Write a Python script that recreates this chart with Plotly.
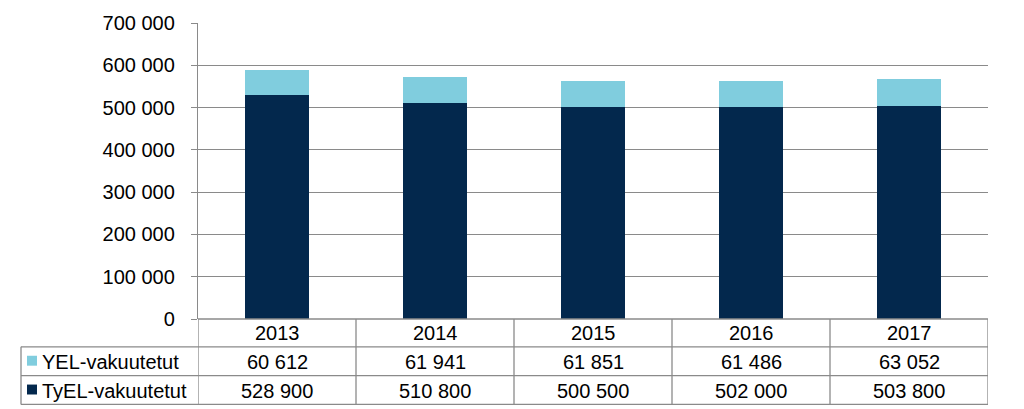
import plotly.graph_objects as go

years = ["2013", "2014", "2015", "2016", "2017"]
yel = [60612, 61941, 61851, 61486, 63052]
tyel = [528900, 510800, 500500, 502000, 503800]
series_names = ["YEL-vakuutetut", "TyEL-vakuutetut"]
y_ticks = [0, 100000, 200000, 300000, 400000, 500000, 600000, 700000]

DARK = "#03284D"
LIGHT = "#80CDDE"
GRID = "#8A8A8A"
FONT = "Liberation Sans, Arial, sans-serif"
FS = 20

W, H = 1024, 409
L, R, T, B = 198, 36, 21, 90
ph = H - T - B
pw = W - L - R


def py(p):
    return (H - B - p) / ph


def px(p):
    return (p - L) / pw


def fmt(v):
    return f"{v:,}".replace(",", " ")


fig = go.Figure()
fig.add_trace(go.Bar(x=years, y=tyel, name=series_names[1], marker=dict(color=DARK, line=dict(width=0))))
fig.add_trace(go.Bar(x=years, y=yel, name=series_names[0], marker=dict(color=LIGHT, line=dict(width=0))))

shapes = []
row_lines = [347, 376, 405]
for p in row_lines:
    shapes.append(dict(type="line", xref="paper", yref="paper", x0=px(21), x1=1, y0=py(p), y1=py(p),
                       line=dict(color=GRID, width=1.3)))
shapes.append(dict(type="line", xref="paper", yref="paper", x0=0, x1=1, y0=0, y1=0,
                   line=dict(color=GRID, width=1.3)))
# vertical lines at category boundaries
for i in range(len(years) + 1):
    shapes.append(dict(type="line", xref="x", yref="paper", x0=i - 0.5, x1=i - 0.5, y0=0, y1=py(405),
                       line=dict(color=GRID, width=1.3)))
shapes.append(dict(type="line", xref="paper", yref="paper", x0=px(21), x1=px(21), y0=py(347), y1=py(405),
                   line=dict(color=GRID, width=1.3)))
# legend swatches
for (c, top, bot) in [(LIGHT, 356, 366), (DARK, 385, 395)]:
    shapes.append(dict(type="rect", xref="paper", yref="paper", x0=px(27), x1=px(37), y0=py(bot), y1=py(top),
                       fillcolor=c, line=dict(width=0)))

annotations = []
row_y = {"year": 333, "yel": 362, "tyel": 391}
for i, yr in enumerate(years):
    for key, txt in [("year", yr), ("yel", fmt(yel[i])), ("tyel", fmt(tyel[i]))]:
        annotations.append(dict(x=i, xref="x", y=py(row_y[key]), yref="paper", text=txt, showarrow=False,
                                xanchor="center", yanchor="middle",
                                font=dict(size=FS, color="black", family=FONT)))
annotations.append(dict(x=px(40), xref="paper", y=py(row_y["yel"]), yref="paper", text=series_names[0],
                        showarrow=False, xanchor="left", yanchor="middle",
                        font=dict(size=FS, color="black", family=FONT)))
annotations.append(dict(x=px(40), xref="paper", y=py(row_y["tyel"]), yref="paper", text=series_names[1],
                        showarrow=False, xanchor="left", yanchor="middle",
                        font=dict(size=FS, color="black", family=FONT)))

fig.update_layout(
    width=W, height=H,
    margin=dict(l=L, r=R, t=T, b=B, pad=0),
    barmode="stack", bargap=0.595,
    plot_bgcolor="white", paper_bgcolor="white",
    showlegend=False,
    separators=", ",
    font=dict(family=FONT, size=FS, color="black"),
    shapes=shapes, annotations=annotations,
    xaxis=dict(type="category", range=[-0.5, len(years) - 0.5], showticklabels=False, showgrid=False,
               zeroline=False, showline=False, ticks=""),
    yaxis=dict(range=[0, 700000], tickvals=y_ticks, tickformat=",d", showgrid=True, gridcolor=GRID,
               gridwidth=1.3, zeroline=False, showline=True, linecolor=GRID, linewidth=1.3,
               ticks="outside", ticklen=6, tickcolor=GRID, tickwidth=1.3, ticklabelstandoff=12,
               tickfont=dict(size=FS, color="black", family=FONT)),
)

fig.write_html("out.html", config={"displayModeBar": False},
               post_script="document.body.style.margin='0';document.body.style.overflow='hidden';")
